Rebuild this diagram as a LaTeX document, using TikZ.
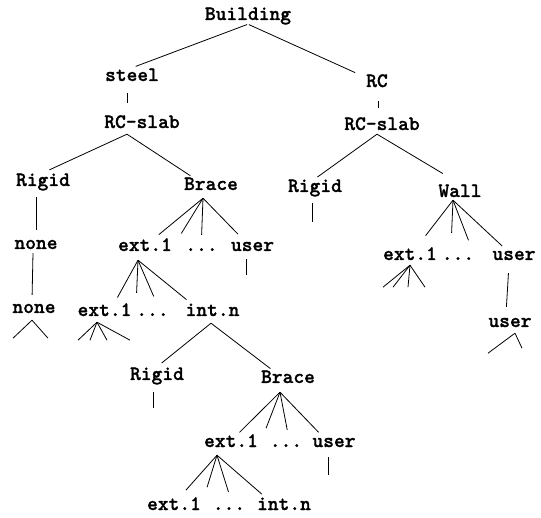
\documentclass[tikz,border=0pt]{standalone}
\usepackage{fontspec}
\usetikzlibrary{calc}
\newfontfamily\lbfont{lmmonolt10-bold.otf}[FakeBold=1.1]
\tikzset{
  lbl/.style={inner sep=0pt, anchor=base, text height=13pt, text depth=4pt,
              font=\fontsize{20.5}{24}\selectfont\lbfont\bfseries},
  conn/.style={draw=black, line width=0.8pt},
  fan/.style={conn, shorten >=5pt},
}
\begin{document}
\begin{tikzpicture}[x=1pt,y=-1pt]
\useasboundingbox (0,0) rectangle (541,518);

% ---- labels (placed by baseline) ----
\node[lbl] (building) at (248,20) {Building};
\node[lbl] (steel)    at (132,81) {steel};
\node[lbl] (rc)       at (377,87) {RC};
\node[lbl] (slabL)    at (142,128) {RC-slab};
\node[lbl] (slabR)    at (382,130) {RC-slab};
\node[lbl] (rigidL)   at (43,186) {Rigid};
\node[lbl] (braceL)   at (211,190) {Brace};
\node[lbl] (rigidR)   at (315,192) {Rigid};
\node[lbl] (wall)     at (460,197) {Wall};
\node[lbl] (none1)    at (36,249) {none};
\node[lbl] (a1)       at (145,251) {ext.1};
\node[lbl] (a2)       at (201.5,251) {...};
\node[lbl] (a3)       at (252.5,251) {user};
\node[lbl] (none2)    at (34,313) {none};
\node[lbl] (b1)       at (104.5,316) {ext.1};
\node[lbl] (b2)       at (152.5,316) {...};
\node[lbl] (b3)       at (212.5,316) {int.n};
\node[lbl] (c1)       at (410,260) {ext.1};
\node[lbl] (c2)       at (458,260) {...};
\node[lbl] (c3)       at (514,260) {user};
\node[lbl] (userF)    at (510,327) {user};
\node[lbl] (rigidM)   at (157,380) {Rigid};
\node[lbl] (braceM)   at (288,383) {Brace};
\node[lbl] (d1)       at (231,447) {ext.1};
\node[lbl] (d2)       at (286,447) {...};
\node[lbl] (d3)       at (334,447) {user};
\node[lbl] (e1)       at (174,510) {ext.1};
\node[lbl] (e2)       at (229,510) {...};
\node[lbl] (e3)       at (284,510) {int.n};

% ---- top levels ----
\draw[conn, shorten <=1pt, shorten >=4pt] (building.south) -- (steel.north);
\draw[conn, shorten <=1pt, shorten >=24pt] (building.south) -- (rc.center);
\draw[conn, shorten <=8pt, shorten >=12pt] ([xshift=-5pt]steel.south) -- ([xshift=-5pt]steel.south |- slabL.north);
\draw[conn, shorten <=10pt, shorten >=9pt] ([xshift=1pt]rc.south) -- ([xshift=1pt]rc.south |- slabR.north);

\coordinate (slabLa) at ([xshift=-15pt,yshift=-2pt]slabL.south);
\draw[conn, shorten >=7pt] (slabLa) -- (rigidL.north);
\draw[conn, shorten >=2pt] (slabLa) -- ([xshift=-19pt]braceL.north);

\coordinate (slabRa) at ([xshift=-5pt]slabR.south);
\draw[conn, shorten >=3pt] (slabRa) -- (rigidR.north);
\draw[conn, shorten >=20pt] (slabRa) -- (wall.north);

% ---- left column ----
\draw[conn, shorten <=7pt, shorten >=6pt] ([xshift=-7pt]rigidL.south) -- (none1.north);
\draw[conn, shorten >=5pt] ([xshift=-3pt]none1.south) -- ([xshift=-2pt]none2.north);
\coordinate (n2a) at ([shift={(-2,3)}]none2.south);
\draw[conn] (n2a) -- ++(-19,18) coordinate (n2l);
\draw[conn] (n2a) -- ++(16,18) coordinate (n2r);

% ---- upper brace ----
\coordinate (bLa) at ([shift={(-8,4)}]braceL.south);
\draw[fan] (bLa) -- ([xshift=10pt]a1.north);
\draw[fan] (bLa) -- ($(a1.north east)!.5!(a2.north west)$);
\draw[fan, shorten >=3pt] (bLa) -- (a2.north);
\draw[fan] (bLa) -- ([xshift=-11pt]a3.north);
\draw[conn] ([shift={(-6,4)}]a3.south) -- ++(0,16) coordinate (a3e);

\coordinate (a1a) at ([shift={(-7,5)}]a1.south);
\draw[fan, shorten >=6pt] (a1a) -- ([xshift=10pt]b1.north);
\draw[fan, shorten >=10pt] (a1a) -- (b2.north west);
\draw[fan, shorten >=7pt] (a1a) -- ([xshift=4pt]b2.north);
\draw[fan] (a1a) -- ([xshift=5pt]b3.north west);

\coordinate (b1a) at ([shift={(-7.5,2)}]b1.south);
\draw[conn] (b1a) -- ++(-19,18) coordinate (b1e1);
\draw[conn] (b1a) -- ++(-7,18) coordinate (b1e2);
\draw[conn] (b1a) -- ++(10,18) coordinate (b1e3);
\draw[conn] (b1a) -- ++(33,18) coordinate (b1e4);

\coordinate (b3a) at ([shift={(-1.5,3)}]b3.south);
\draw[fan, shorten >=6pt] (b3a) -- (rigidM.north);
\draw[fan, shorten >=2pt] (b3a) -- ([xshift=-16pt]braceM.north);
\draw[conn] ([shift={(-4,8)}]rigidM.south) -- ++(0,16) coordinate (rMe);

% ---- lower brace ----
\coordinate (bMa) at ([shift={(-8,5)}]braceM.south);
\draw[fan, shorten >=2pt] (bMa) -- ([xshift=7pt]d1.north);
\draw[fan, shorten >=6pt] (bMa) -- ($(d1.north east)!.5!(d2.north west)$);
\draw[fan, shorten >=4pt] (bMa) -- ([xshift=2pt]d2.north);
\draw[fan, shorten >=2pt] (bMa) -- ([xshift=-14pt]d3.north);
\draw[conn] ([shift={(-6,6)}]d3.south) -- ++(0,18) coordinate (d3e);

\coordinate (d1a) at ([shift={(-14,4)}]d1.south);
\draw[fan, shorten >=9pt] (d1a) -- ([xshift=6pt]e1.north);
\draw[fan, shorten >=10pt] (d1a) -- ([xshift=3pt]e1.north east);
\draw[fan, shorten >=5pt] (d1a) -- ([xshift=1pt]e2.north);
\draw[fan, shorten >=4pt] (d1a) -- ([xshift=8pt]e3.north west);

% ---- right column ----
\draw[conn] ([shift={(-3,7)}]rigidR.south) -- ++(0,19) coordinate (rRe);

\coordinate (wa) at ([shift={(-7,-1)}]wall.south);
\draw[fan, shorten >=14pt] (wa) -- ([xshift=7pt]c1.north);
\draw[fan, shorten >=14pt] (wa) -- ([xshift=-7pt]c2.north);
\draw[fan, shorten >=7pt] (wa) -- ([xshift=13pt]c2.north);
\draw[fan, shorten >=1pt] (wa) -- ([xshift=-11pt]c3.north);

\coordinate (c1a) at ([shift={(0,1)}]c1.south);
\draw[conn] (c1a) -- ++(-27,22) coordinate (c1e1);
\draw[conn] (c1a) -- ++(-17,22) coordinate (c1e2);
\draw[conn] (c1a) -- ++(-2,22) coordinate (c1e3);
\draw[conn] (c1a) -- ++(15,22) coordinate (c1e4);

\draw[conn, shorten <=9pt, shorten >=7pt] ([xshift=-5pt]c3.south) -- ([xshift=-4pt]userF.north);
\coordinate (uFa) at ([shift={(5,2)}]userF.south);
\draw[conn] (uFa) -- ++(-27,20) coordinate (uFl);
\draw[conn] (uFa) -- ++(7,15) coordinate (uFr);
\end{tikzpicture}
\end{document}
